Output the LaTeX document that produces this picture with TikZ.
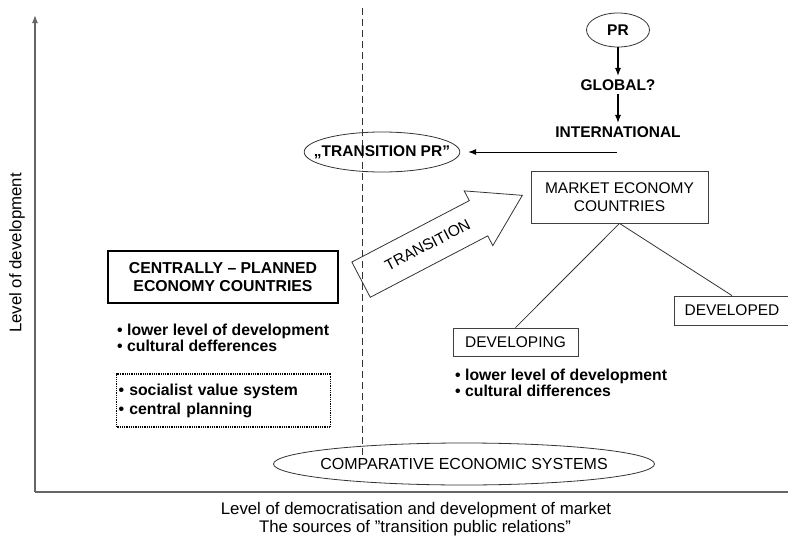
\documentclass[tikz,border=0pt]{standalone}
\usepackage{fontspec}
\setmainfont{Liberation Sans}
\usetikzlibrary{shapes.geometric,shapes.arrows,arrows.meta}
\tikzset{
    box/.style={
           rectangle,
           draw=black!75, thick,
           minimum height=28pt,
           inner sep=2pt,
           text centered,
           font=\fontsize{15.5}{17.5}\selectfont,
           },
    oval/.style={
           ellipse,
           draw=black!80, thick,
           inner sep=1pt,
           font=\bfseries\fontsize{15.5}{17}\selectfont,
           },
    bullets/.style={
           align=left,
           anchor=north west,
           inner sep=0pt,
           font=\bfseries\fontsize{15.8}{16}\selectfont,
           },
    plaintext/.style={
           font=\fontsize{16.8}{18}\selectfont,
           },
}

\begin{document}
\begin{tikzpicture}[x=1pt, y=-1pt, >={Latex[length=8pt,width=6pt]}]
    \useasboundingbox (0,0) rectangle (788,538);

    % axes and the dashed border
    \coordinate (origin) at (35,492);
    \coordinate (ytop) at (35,15);
    \coordinate (xend) at (788,492);
    \coordinate (dtop) at (362,8);
    \coordinate (dbot) at (362,457);
    \draw[black!60, line width=1.4pt] (xend) -- (origin);
    \draw[black!60, line width=1.4pt, ->] (origin) -- (ytop);
    \draw[black!80, thick, dash pattern=on 7pt off 4pt] (dtop) -- (dbot);

    % axis texts
    \node[plaintext, rotate=90] (ylabel) at (17,253) {Level of development};
    \node[plaintext] (xlabel) at (416,510) {Level of democratisation and development of market};
    \node[plaintext] (xsource) at (415,528) {The sources of ”transition public relations”};

    % PR chain (top right)
    \node[oval,             % layout (defined above)
    minimum width=63pt,
    minimum height=34pt] (pr)
    at (618,30) {PR};

    \node[font=\bfseries\fontsize{15.5}{17}\selectfont] (global) at (618,85) {GLOBAL?};
    \node[font=\bfseries\fontsize{15.5}{17}\selectfont] (intl) at (618,132) {INTERNATIONAL};
    \coordinate (intlout) at (617,152);

    \node[oval,
    inner xsep=-13pt,   % keep the oval tight round the text
    minimum height=40pt] (tpr)
    at (382,152) {„TRANSITION PR”};

    % market economies
    \node[box,
    minimum width=177pt,
    minimum height=52pt,
    align=center] (market)
    at (619.5,197) {MARKET ECONOMY\\COUNTRIES};

    \node[box, minimum width=115pt, minimum height=29pt] (developed) at (732,310.5) {DEVELOPED};
    \node[box, minimum width=125pt] (developing) at (515.5,342) {DEVELOPING};
    \node[bullets] (devlist) at (455,369)
        {• lower level of development\\• cultural differences};

    % centrally planned economies
    \node[box, draw=black, very thick,
    minimum width=230pt,
    minimum height=52pt,
    align=center,
    font=\bfseries\fontsize{15.8}{17.5}\selectfont] (cpe)
    at (223,277) {CENTRALLY – PLANNED\\ECONOMY COUNTRIES};

    \node[bullets] (cpelist) at (117,324)
        {• lower level of development\\• cultural defferences};

    \node[box, densely dotted, draw=black, very thick,
    minimum height=53pt,
    text width=210pt,
    align=left,
    font=\bfseries\fontsize{15.8}{19}\selectfont] (values)
    at (223.5,400.5) {• socialist value system\\• central planning};

    % bottom oval
    \node[ellipse, draw=black!80, thick,
    inner xsep=-9pt,
    minimum height=42pt,
    font=\fontsize{16}{17}\selectfont] (ces)
    at (464,464) {COMPARATIVE ECONOMIC SYSTEMS};

    % the big transition arrow
    \node[single arrow, draw=black!80, thick,
    single arrow head extend=11pt,
    single arrow tip angle=64,
    inner ysep=14pt,
    minimum height=182pt,
    font=\fontsize{15.5}{17}\selectfont,
    rotate=27.6,
    anchor=tip] (trans)
    at (523,195) {TRANSITION};

    % the paths
    \path[line width=1.2pt]
        (pr)        edge[->] (global)
        (global)    edge[->] (intl)
        (intlout)   edge[->, thick, shorten >=8pt] (tpr)
        (market.south) edge[black!80, thick] (developing.north)
        (market.south) edge[black!80, thick] (developed.north)
        ;

\end{tikzpicture}
\end{document}
